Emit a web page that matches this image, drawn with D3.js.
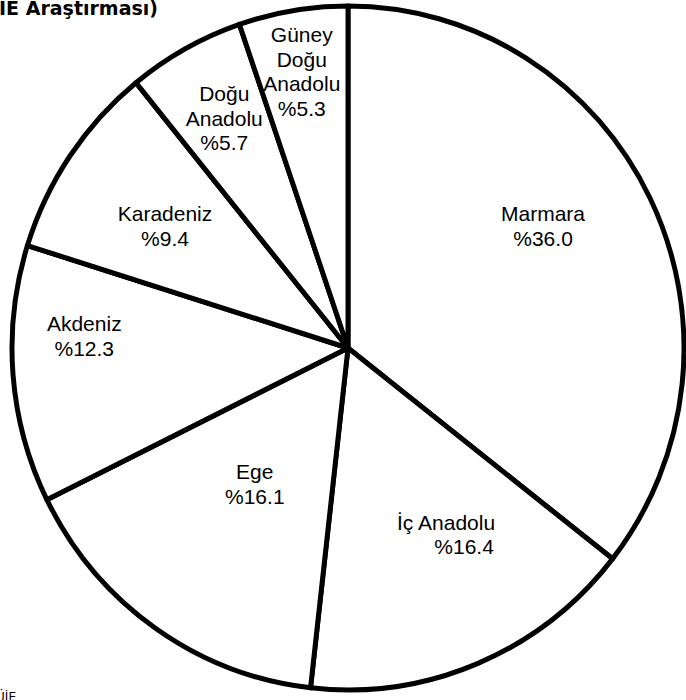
<!DOCTYPE html>
<html>
<head>
<meta charset="UTF-8">
<script src="https://d3js.org/d3.v7.min.js"></script>
<style>
  body { margin: 0; background: #fff; }
  .slice { fill: #fff; stroke: #000; stroke-width: 5px; stroke-linejoin: round; }
  .lbl { font-family: "Liberation Sans", Arial, sans-serif; font-size: 21px; fill: #000; }
  .title { font-family: "DejaVu Sans", Verdana, sans-serif; font-weight: bold; font-size: 19px; }
  .src { font-family: "DejaVu Sans", Verdana, sans-serif; font-size: 12px; }
</style>
</head>
<body>
<svg width="686" height="700"></svg>
<script>
// bölgeler ve yüzdeler
var regions = ["Marmara", "İç Anadolu", "Ege", "Akdeniz", "Karadeniz", "Doğu Anadolu", "Güney Doğu Anadolu"];
var values = [36.0, 16.4, 16.1, 12.3, 9.4, 5.7, 5.3];
var labelLines = [
  ["Marmara"], ["İç Anadolu"], ["Ege"], ["Akdeniz"], ["Karadeniz"],
  ["Doğu", "Anadolu"], ["Güney", "Doğu", "Anadolu"]
];

// etiket yerleşimi (derece, merkezden uzaklık)
var labelAngle = [58, 152.3, 214.4, 272.6, 303.7, 331.7, 350.5];
var labelDist = [230, 211, 165, 264, 220, 261, 280];

var svg = d3.select("svg");
var cx = 348, cy = 348, r = 339;
var lineH = 24.5;

svg.append("text").attr("class", "title")
  .attr("x", 158).attr("y", 15)
  .attr("text-anchor", "end")
  .text("(TÜİE Araştırması)");

svg.append("text").attr("class", "src")
  .attr("x", 16).attr("y", 701)
  .attr("text-anchor", "end")
  .text("Kaynak: TÜİE");

var pie = d3.pie().sort(null).value(function(d) { return d; });
var arc = d3.arc().innerRadius(0).outerRadius(r);
var arcs = pie(values);

var g = svg.append("g")
  .attr("transform", "translate(" + cx + "," + cy + ") scale(" + (336 / r) + "," + (342 / r) + ")");

g.selectAll("path")
  .data(arcs)
  .enter().append("path")
  .attr("class", "slice")
  .attr("d", arc);

var lg = svg.append("g").attr("transform", "translate(" + cx + "," + cy + ")");

arcs.forEach(function(a, i) {
  var ang = labelAngle[i] * Math.PI / 180;
  var x = Math.sin(ang) * labelDist[i];
  var y = -Math.cos(ang) * labelDist[i];
  var lines = labelLines[i].concat(["%" + values[i].toFixed(1)]);
  var t = lg.append("text").attr("class", "lbl")
    .attr("text-anchor", "middle")
    .attr("x", x)
    .attr("y", y - (lines.length - 1) * lineH / 2);
  t.selectAll("tspan").data(lines).enter().append("tspan")
    .attr("x", function(d, j) { return (i === 1 && j === 1) ? x + 18 : x; })
    .attr("dy", function(d, j) { return j === 0 ? "0.35em" : lineH; })
    .text(function(d) { return d; });
});
</script>
</body>
</html>
